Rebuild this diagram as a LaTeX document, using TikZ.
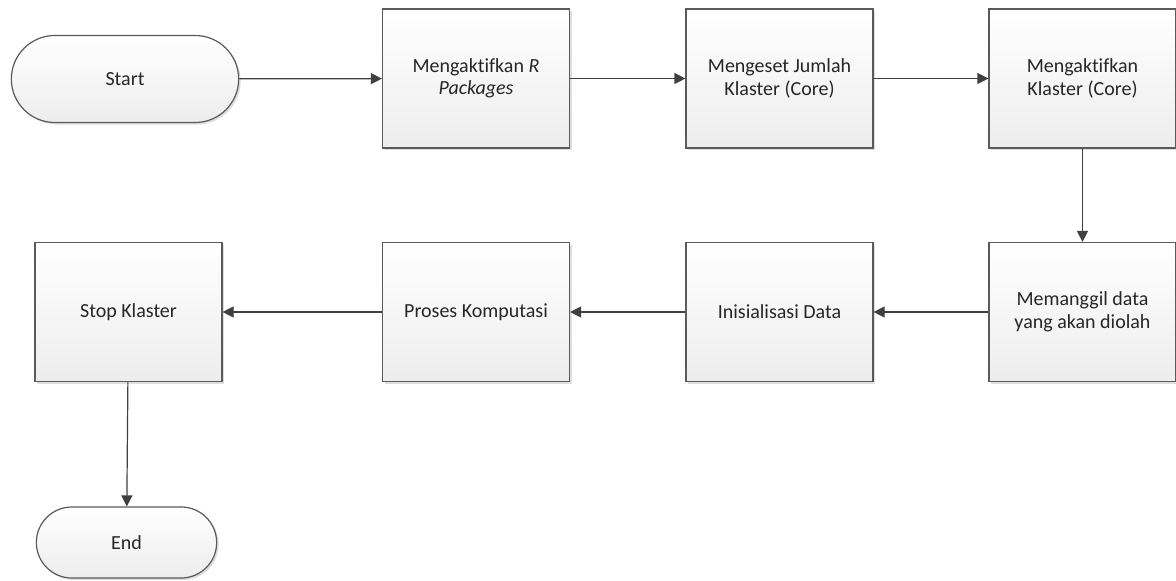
\documentclass[tikz,border=0pt]{standalone}
\usepackage{fontspec}
\setmainfont[Ligatures={NoCommon,NoRequired,NoContextual}]{Carlito}
\usetikzlibrary{arrows.meta,shapes.misc,shadows}
\definecolor{edgegray}{HTML}{5A5A5A}
\definecolor{linegray}{HTML}{404040}
\definecolor{shadowgray}{HTML}{D0D0D0}
\tikzset{
  x=1pt, y=-1pt,
  procbox/.style={rectangle, draw=edgegray, line width=1.2pt,
    top color=white, bottom color=black!7,
    minimum width=187pt, minimum height=139pt, align=center,
    text=black!85, font=\fontsize{20}{22.5}\selectfont,
    drop shadow={shadow xshift=2pt, shadow yshift=-2pt, fill=shadowgray, opacity=0.7}},
  termbox/.style={rounded rectangle, draw=edgegray, line width=1.2pt,
    top color=white, bottom color=black!7, align=center,
    text=black!85, font=\fontsize{20}{22.5}\selectfont,
    drop shadow={shadow xshift=2pt, shadow yshift=-2pt, fill=shadowgray, opacity=0.7}},
  flow/.style={draw=linegray, line width=1.2pt,
    -{Triangle[length=11pt,width=11pt]}},
}
\begin{document}
\begin{tikzpicture}
  \useasboundingbox[fill=white] (0,0) rectangle (1176,581);

  % top row
  \node[termbox, minimum width=234pt, minimum height=87pt] (start) at (125,79) {Start};
  \node[procbox] (pkg) at (476,78.5) {Mengaktifkan \textit{R}\\\textit{Packages}};
  \node[procbox] (set) at (779.5,78.5) {Mengeset Jumlah\\Klaster (Core)};
  \node[procbox] (act) at (1082.5,78.5) {Mengaktifkan\\Klaster (Core)};

  % bottom row
  \node[procbox] (load) at (1082.5,312) {Memanggil data\\yang akan diolah};
  \node[procbox] (init) at (779.5,312) {Inisialisasi Data};
  \node[procbox] (comp) at (476,312) {Proses Komputasi};
  \node[procbox] (stop) at (128.5,312) {Stop Klaster};

  \node[termbox, minimum width=187pt, minimum height=71pt] (end) at (126.5,542.5) {End};

  % connectors
  \draw[flow] (start) -- (pkg);
  \draw[flow] (pkg) -- (set);
  \draw[flow] (set) -- (act);
  \draw[flow] (act) -- (load);
  \draw[flow] (load) -- (init);
  \draw[flow] (init) -- (comp);
  \draw[flow] (comp) -- (stop);
  \draw[flow] (stop) -- (end);
\end{tikzpicture}
\end{document}
